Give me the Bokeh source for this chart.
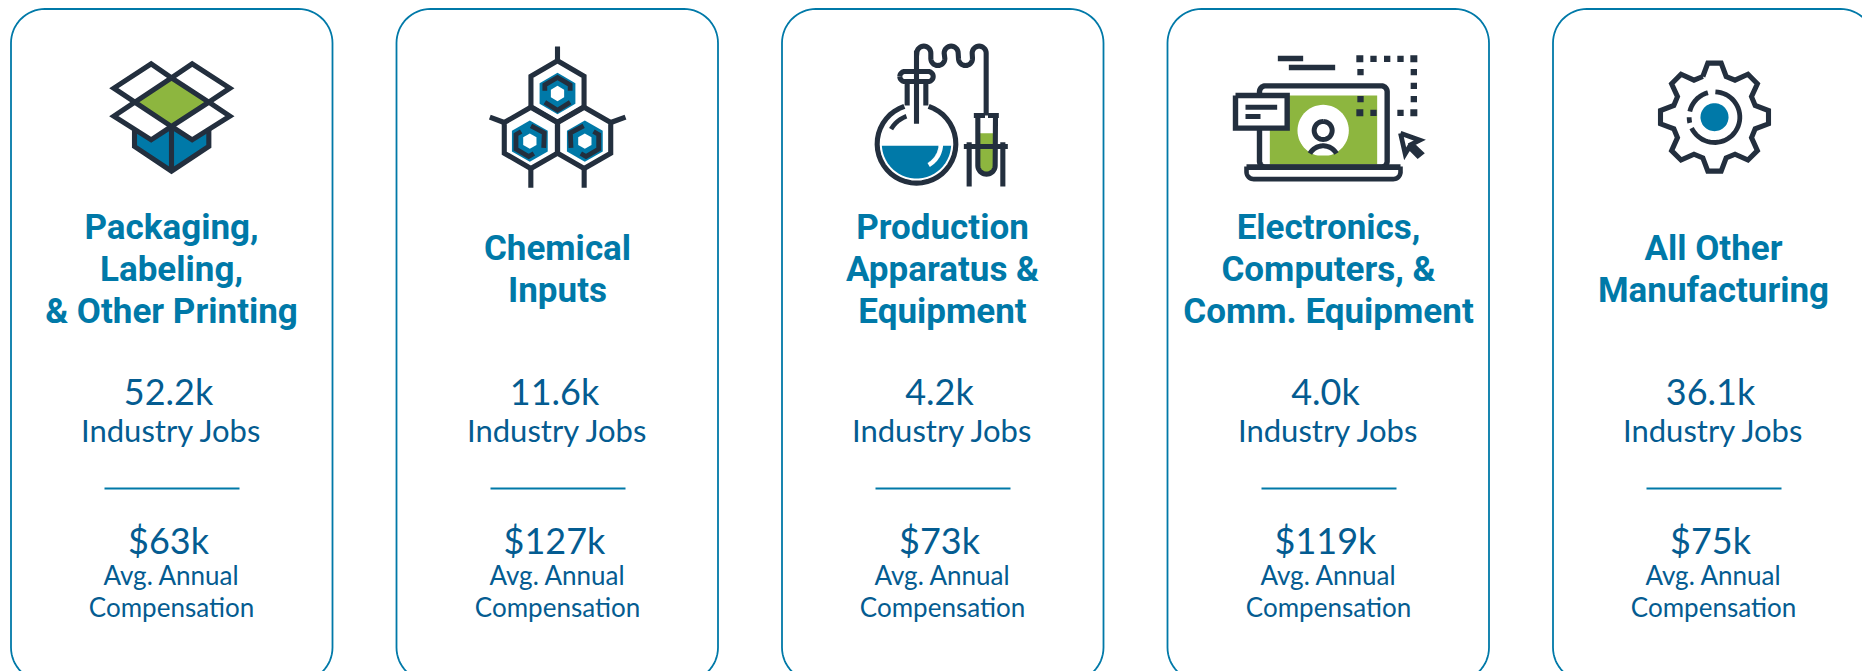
import math
from bokeh.plotting import figure
from bokeh.models import Range1d
from bokeh.core.properties import value
from bokeh.embed import file_html
from bokeh.resources import INLINE

# ---- content ----
titles = [["Packaging,", "Labeling,", "& Other Printing"],
          ["Chemical", "Inputs"],
          ["Production", "Apparatus &", "Equipment"],
          ["Electronics,", "Computers, &", "Comm. Equipment"],
          ["All Other", "Manufacturing"]]
jobs = ["52.2k", "11.6k", "4.2k", "4.0k", "36.1k"]
comp = ["$63k", "$127k", "$73k", "$119k", "$75k"]
jobs_label = "Industry Jobs"
comp_label = ["Avg. Annual", "Compensation"]

# ---- style ----
BLUE = "#0079a8"
TEXT = "#045c91"
DARK = "#232f3e"
GREEN = "#8db63f"
BODY_FONT = "Lato"
TITLE_FONT = "Roboto"

# ---- layout ----
card_left = [10.5, 396, 781.5, 1167, 1552.5]
card_width = 321.5
card_top, card_bottom, card_r = 8.5, 681, 34
centers = [171, 557, 942, 1328, 1713]

p = figure(width=1862, height=671, x_range=Range1d(0, 1862), y_range=Range1d(671, 0),
           output_backend="svg", toolbar_location=None, min_border=0, outline_line_color=None)
p.axis.visible = False
p.grid.visible = False
p.xaxis.visible = False
p.yaxis.visible = False


def arc(cx, cy, r, a0, a1, n=40):
    """angles clockwise from top, degrees"""
    xs, ys = [], []
    for i in range(n + 1):
        a = math.radians(a0 + (a1 - a0) * i / n)
        xs.append(cx + r * math.sin(a))
        ys.append(cy - r * math.cos(a))
    return xs, ys


def rrect(x0, y0, x1, y1, r):
    xs, ys = [], []
    for cx, cy, a0 in [(x0 + r, y0 + r, 270), (x1 - r, y0 + r, 360), (x1 - r, y1 - r, 450), (x0 + r, y1 - r, 540)]:
        a, b = arc(cx, cy, r, a0, a0 + 90, 16)
        xs += a
        ys += b
    xs.append(xs[0])
    ys.append(ys[0])
    return xs, ys


class Icon:
    def __init__(self, ox, oy):
        self.ox, self.oy = ox, oy

    def X(self, xs):
        return [self.ox + x / 3 for x in xs]

    def Y(self, ys):
        return [self.oy + y / 3 for y in ys]

    def line(self, pts, w=5.1, c=DARK, join="miter", cap="butt"):
        p.line(self.X([a for a, _ in pts]), self.Y([b for _, b in pts]), line_color=c, line_width=w,
               line_join=join, line_cap=cap)

    def fill(self, pts, c):
        p.patch(self.X([a for a, _ in pts]), self.Y([b for _, b in pts]), fill_color=c, line_color=None)

    def arcline(self, cx, cy, r, a0, a1, w=5.1, c=DARK):
        x, y = arc(cx, cy, r, a0, a1)
        self.line(list(zip(x, y)), w, c)

    def disc(self, cx, cy, r, c, a0=0, a1=360):
        x, y = arc(cx, cy, r, a0, a1, 60)
        self.fill(list(zip(x, y)), c)


# ---- cards, texts ----
for i in range(5):
    x, y = rrect(card_left[i], card_top, card_left[i] + card_width, card_bottom, card_r)
    p.line(x, y, line_color=BLUE, line_width=1.8)
    cx = centers[i]
    n = len(titles[i])
    first = 227 if n == 3 else 248
    p.text([cx] * n, [first + 42 * k for k in range(n)], text=titles[i], text_font=value(TITLE_FONT),
           text_font_size="35px", text_font_style="bold", text_color=BLUE, text_align="center",
           text_baseline="alphabetic")
    p.text([cx - 3], [390], text=[jobs[i]], text_font=value(BODY_FONT), text_font_size="36px", text_color=TEXT,
           text_align="center", text_baseline="alphabetic")
    p.text([cx], [429], text=[jobs_label], text_font=value(BODY_FONT), text_font_size="31px", text_color=TEXT,
           text_align="center", text_baseline="alphabetic")
    p.line([cx - 67, cx + 68], [488, 488], line_color=BLUE, line_width=2)
    p.text([cx - 3], [539], text=[comp[i]], text_font=value(BODY_FONT), text_font_size="36px", text_color=TEXT,
           text_align="center", text_baseline="alphabetic")
    p.text([cx, cx], [574, 606], text=comp_label, text_font=value(BODY_FONT), text_font_size="26px",
           text_color=TEXT, text_align="center", text_baseline="alphabetic")

# ---- box icon ----
b = Icon(90, 40)
b.fill([(132, 265), (182, 298), (243, 258), (305, 298), (355, 265), (355, 318), (243, 390), (132, 318)], BLUE)
b.fill([(243, 112), (355, 185), (243, 258), (133, 185)], GREEN)
b.line([(132, 265), (132, 318), (243, 392), (355, 318), (355, 265)])
b.line([(243, 258), (243, 392)])
b.line([(243, 112), (355, 185), (243, 258), (133, 185), (243, 112)])
b.line([(243, 112), (182, 70), (70, 143), (133, 185)])
b.line([(243, 112), (305, 70), (418, 143), (355, 185)])
b.line([(133, 185), (70, 227), (182, 298), (243, 258)])
b.line([(355, 185), (418, 227), (305, 298), (243, 258)])

# ---- hexagon icon ----
c = Icon(470, 30)


def hexa(cx, cy, r):
    return [(cx + r * math.sin(math.radians(a)), cy - r * math.cos(math.radians(a))) for a in range(0, 420, 60)]


def rot(pts, cx, cy, deg):
    t = math.radians(deg)
    return [(cx + (x - cx) * math.cos(t) - (y - cy) * math.sin(t), cy + (x - cx) * math.sin(t) + (y - cy) * math.cos(t)) for x, y in pts]


for cx_, cy_, deg in [(261, 189, 0), (178, 332, -120), (343, 332, 120)]:
    c.fill(hexa(cx_, cy_, 62), BLUE)
    top = [(-38, -8), (-38, -26), (0, -48), (38, -26), (38, -8)]
    bot = [(-38, 26), (0, 50), (38, 26)]
    c.line(rot([(cx_ + a, cy_ + d) for a, d in top], cx_, cy_, deg), 4.8)
    c.line(rot([(cx_ + a, cy_ + d) for a, d in bot], cx_, cy_, deg), 4.8)
    c.fill(hexa(cx_, cy_, 23), "#ffffff")
for cx_, cy_ in [(261, 183), (181, 322), (341, 322)]:
    c.line(hexa(cx_, cy_, 92))
c.line([(261, 92), (261, 48)])
c.line([(101, 276), (58, 260)])
c.line([(421, 276), (465, 260)])
c.line([(181, 414), (181, 472)])
c.line([(341, 414), (341, 472)])

# ---- flask icon ----
f = Icon(850, 30)
f.disc(198, 340, 118, "#ffffff")
x, y = arc(198, 340, 104, 93, 267, 50)
f.fill(list(zip(x, y)), BLUE)
f.arcline(198, 340, 73, 78, 150, 4.6, "#ffffff")
f.arcline(198, 340, 118, 18, 342)
f.arcline(198, 340, 88, 300, 340, 4.6)
f.line([(170, 225), (170, 148)])
f.line([(226, 225), (226, 148)])
x, y = rrect(148, 123, 248, 153, 15)
f.line(list(zip(x, y)))
# tube with the wavy part
wave = [(198, 280), (198, 68)]
for cx_, a0, a1, cy_ in [(220, 270, 450, 68), (262, 270, 90, 84), (302, 270, 450, 68), (345, 270, 90, 84), (386, 270, 450, 68)]:
    xa, ya = arc(cx_, cy_, 21, a0, a1, 16)
    wave += list(zip(xa, ya))
wave.append((407, 250))
f.line(wave)
# test tube
xa, ya = arc(408, 405, 20, 90, 270, 20)
f.fill([(428, 308)] + list(zip(xa, ya)) + [(388, 308)], GREEN)
xa, ya = arc(408, 405, 26, 90, 270, 20)
f.line([(435, 255)] + list(zip(xa, ya)) + [(382, 255)])
f.line([(370, 255), (445, 255)])
f.line([(408, 255), (408, 288)], 3, "#ffffff")
f.line([(340, 348), (472, 348)])
f.line([(356, 335), (356, 468)])
f.line([(457, 335), (457, 468)])

# ---- laptop icon ----
l = Icon(1220, 40)
l.fill([(148, 165), (470, 165), (470, 372), (148, 372)], GREEN)
x, y = arc(308, 270, 77, 0, 360, 60)
l.fill([(a, min(d, 345)) for a, d in zip(x, y)], "#ffffff")
x, y = rrect(117, 136, 500, 380, 18)
l.line(list(zip(x, y)), 5.4)
l.arcline(308, 270, 27, 0, 360, 5)
l.arcline(308, 362, 46, 300, 420, 5)
l.line([(78, 380), (540, 380)], 5.6)
l.line([(540, 378), (540, 398)] + list(zip(*arc(518, 394, 22, 90, 180, 10))) + list(zip(*arc(100, 394, 22, 180, 270, 10))) + [(78, 378)], 4.6)
l.fill([(45, 165), (200, 165), (200, 263), (45, 263)], "#ffffff")
l.line([(45, 165), (200, 165), (200, 263), (45, 263), (45, 165)], 5.4)
l.line([(75, 200), (170, 200)], 5)
l.line([(75, 228), (120, 228)], 5)
l.line([(172, 54), (248, 54)], 5.6)
l.line([(205, 81), (344, 81)], 5.6)
for sx, sy, s in [(418, 55, 21), (459, 55, 19), (500, 55, 19), (540, 55, 19), (580, 55, 21),
                  (420, 95, 19), (580, 95, 19), (580, 136, 19), (420, 176, 19), (580, 176, 19),
                  (418, 217, 21), (459, 217, 19), (540, 217, 19), (580, 217, 21)]:
    h = s / 2
    l.fill([(sx - h, sy - h), (sx + h, sy - h), (sx + h, sy + h), (sx - h, sy + h)], DARK)
cur = [(540, 278), (598, 299), (574, 311), (602, 338), (592, 346), (566, 320), (554, 340), (540, 278)]
l.line(cur, 4.8)

# ---- gear icon ----
g = Icon(1630, 40)
tooth = [(-35, -122), (-20, -162), (20, -162), (35, -122)]
outline = []
for k in range(8):
    outline += rot([(252 + a, 230 + d) for a, d in tooth], 252, 230, 45 * k)
outline.append(outline[0])
g.line(outline, 5.1)
g.arcline(252, 230, 76, 2, 244.5, 4.8)
g.arcline(252, 230, 76, 257, 270, 4.8)
g.arcline(252, 230, 76, 283, 345, 4.8)
g.disc(252, 230, 42, BLUE)

open("out.html", "w").write(file_html(p, INLINE))
